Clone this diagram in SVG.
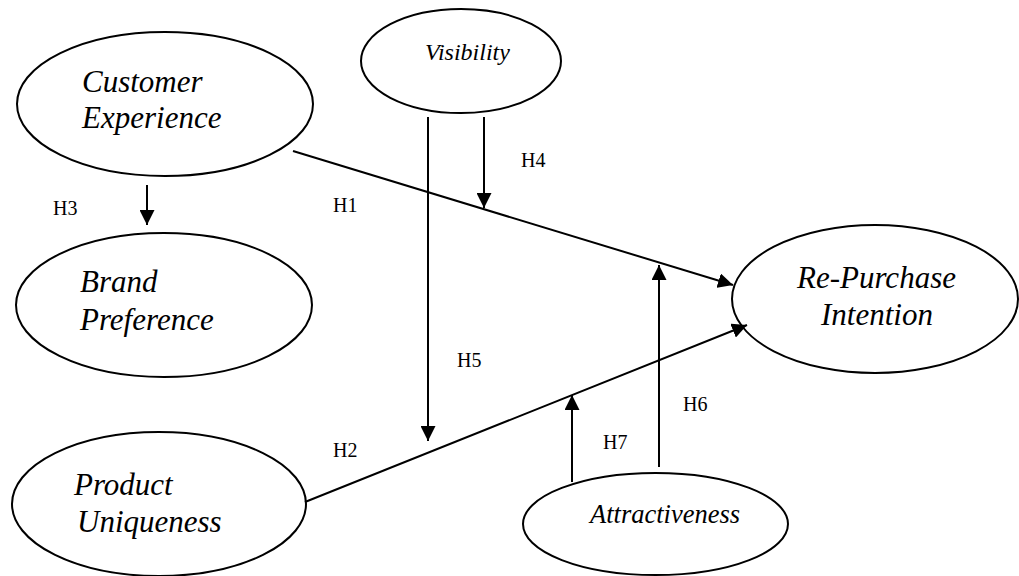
<svg xmlns="http://www.w3.org/2000/svg" width="1019" height="576" viewBox="0 0 1019 576">
<defs>
<marker id="arr" markerUnits="userSpaceOnUse" markerWidth="15" markerHeight="15" refX="15" refY="7.5" orient="auto">
<path d="M0,0 L15,7.5 L0,15 z" fill="#000"/>
</marker>
<style>
.node ellipse{fill:#fff;stroke:#000;stroke-width:2}
.big{font-family:"Liberation Serif","Times New Roman",serif;font-style:italic;font-size:31px;fill:#000}
.mid{font-family:"Liberation Serif","Times New Roman",serif;font-style:italic;fill:#000}
.lbl{font-family:"Liberation Serif","Times New Roman",serif;font-size:20px;fill:#000}
.edges line{stroke:#000;stroke-width:2;fill:none}
.edges line.a{marker-end:url(#arr)}
</style>
</defs>
<rect width="1019" height="576" fill="#fff"/>
<g id="customer-experience" class="node">
<ellipse cx="165" cy="104" rx="148" ry="72"/>
<text class="big" x="82" y="92">Customer</text>
<text class="big" x="82" y="128">Experience</text>
</g>
<g id="brand-preference" class="node">
<ellipse cx="164" cy="305" rx="148" ry="72"/>
<text class="big" x="80" y="292">Brand</text>
<text class="big" x="80" y="330">Preference</text>
</g>
<g id="visibility" class="node">
<ellipse cx="461" cy="61" rx="100" ry="52"/>
<text class="mid" x="425" y="60" font-size="24">Visibility</text>
</g>
<g id="re-purchase-intention" class="node">
<ellipse cx="875" cy="299" rx="143" ry="74"/>
<text class="big" x="797" y="288">Re-Purchase</text>
<text class="big" x="821" y="325">Intention</text>
</g>
<g id="product-uniqueness" class="node">
<ellipse cx="159" cy="504" rx="147" ry="72"/>
<text class="big" x="74" y="495">Product</text>
<text class="big" x="77" y="532">Uniqueness</text>
</g>
<g id="attractiveness" class="node">
<ellipse cx="655.5" cy="524" rx="132.5" ry="51"/>
<text class="mid" x="590" y="523" font-size="26.5">Attractiveness</text>
</g>
<g id="connectors" class="edges">
<line class="a" x1="293" y1="151" x2="733" y2="285"/>
<line class="a" x1="305" y1="502" x2="747" y2="325"/>
<line class="a" x1="147" y1="185" x2="147" y2="225"/>
<line class="a" x1="484" y1="117" x2="484" y2="208"/>
<line class="a" x1="428" y1="117" x2="428" y2="441"/>
<line class="a" x1="659" y1="467" x2="659" y2="265"/>
<line class="a" x1="572" y1="482" x2="572" y2="395"/>
</g>
<g id="labels">
<text class="lbl" x="333" y="212">H1</text>
<text class="lbl" x="333" y="457">H2</text>
<text class="lbl" x="53" y="215">H3</text>
<text class="lbl" x="521" y="167">H4</text>
<text class="lbl" x="457" y="367">H5</text>
<text class="lbl" x="683" y="411">H6</text>
<text class="lbl" x="603" y="449">H7</text>
</g>
</svg>
